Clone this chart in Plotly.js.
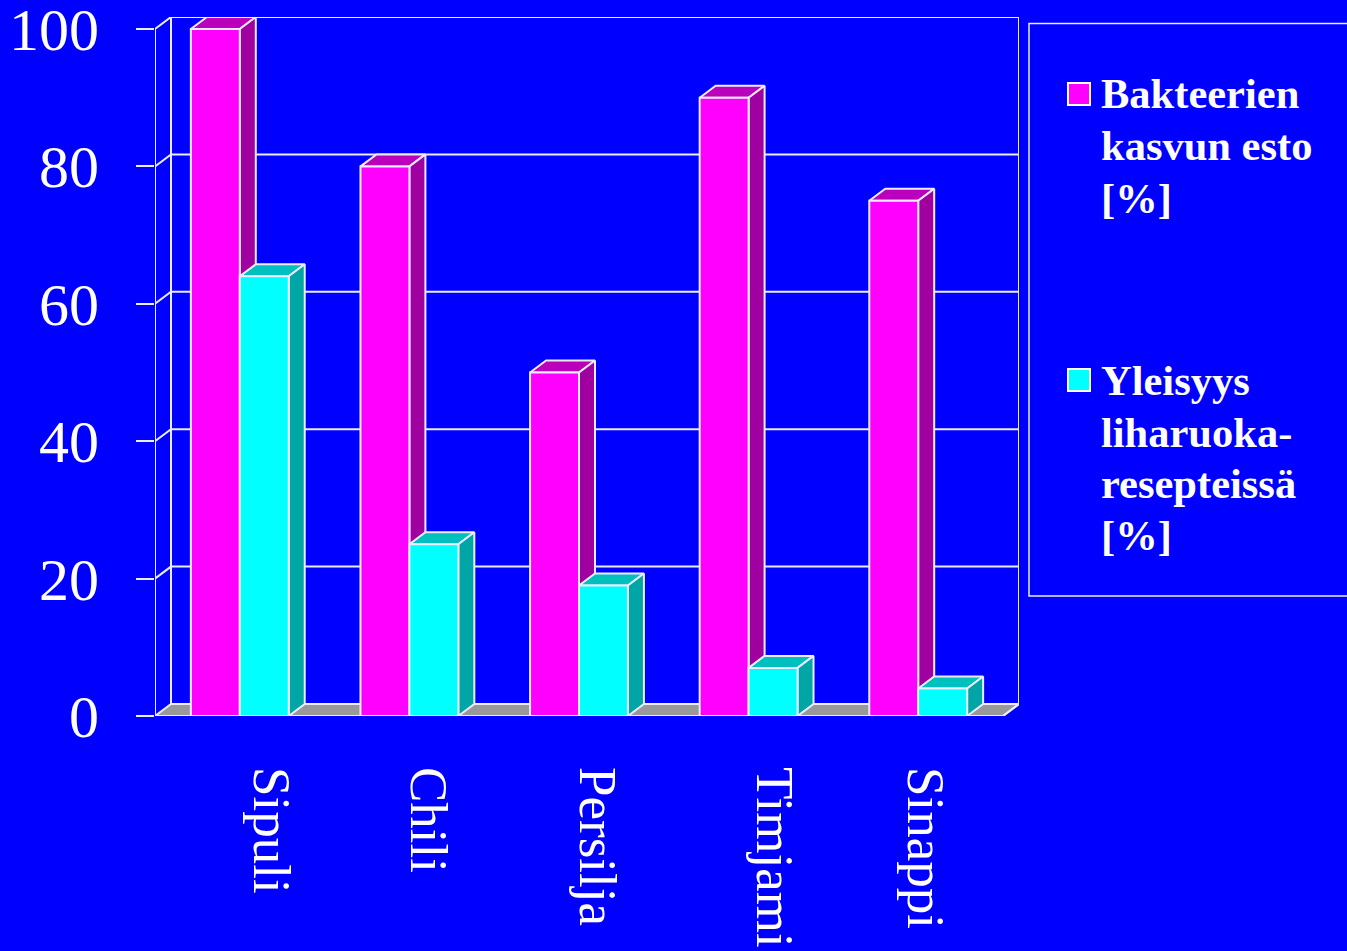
<!DOCTYPE html>
<html><head><meta charset="utf-8">
<script src="https://cdn.plot.ly/plotly-3.0.1.min.js"></script>
<style>html,body{margin:0;padding:0;background:#00f;overflow:hidden}</style>
</head><body><div id="chart" style="width:1347px;height:951px"></div>
<script>
const categories = ["Sipuli","Chili","Persilja","Timjami","Sinappi"];
const catIndex = [0,1,2,3,4];
const inhibition = [100,80,50,90,75];
const prevalence = [64,25,19,7,4];
const yTicks = [0,20,40,60,80,100];
const labelPositions = [0.183,0.109,0.105,0.150,0.041];
const seriesNames = ["Bakteerien kasvun esto [%]","Yleisyys liharuoka-resepteissä [%]"];
const legendLinesA = ["Bakteerien","kasvun esto","[%]"];
const legendLinesB = ["Yleisyys","liharuoka-","resepteissä","[%]"];

const W=1347,H=951,L=155,R=1019,T=17,B=716;
const dx=16/169.6, dy=12/6.87, barW=0.2885;
const xRange=[-0.5,4.5+dx], yRange=[0,100+dy];
const px=p=>(p-L)/(R-L), py=p=>(B-p)/(B-T);
const lineCol='#ECECFF', lw=2;

function faces(vals, off){
  const side={x:[],y:[]}, top={x:[],y:[]};
  vals.forEach((v,i)=>{
    const a=catIndex[i]+off, b=a+barW;
    side.x.push(b,b+dx,b+dx,b,b,null); side.y.push(0,dy,v+dy,v,0,null);
    top.x.push(a,a+dx,b+dx,b,a,null); top.y.push(v,v+dy,v+dy,v,v,null);
  });
  return {side,top};
}
const poly=(f,color)=>({type:'scatter',mode:'lines',x:f.x,y:f.y,fill:'toself',fillcolor:color,cliponaxis:false,
  line:{color:lineCol,width:lw},showlegend:false,hoverinfo:'skip',xaxis:'x',yaxis:'y'});

const xl=xRange[0], xr=4.5;
const grid={x:[],y:[]};
yTicks.forEach(t=>{ if(t>0){grid.x.push(xl,xl+dx,xr+dx,null);grid.y.push(t,t+dy,t+dy,null);} });
grid.x.push(xl,xl,null,xl+dx,xl+dx,null,xr+dx,xr+dx,null);
grid.y.push(0,100,null,dy,100+dy,null,dy,100+dy,null);
const floor={x:[xl,xl+dx,xr+dx,xr,xl],y:[0,dy,dy,0,0]};

const fa=faces(inhibition,-barW), fb=faces(prevalence,0);
const barTrace=(vals,name,color)=>({type:'bar',x:catIndex,y:vals,name:name,cliponaxis:false,
  marker:{color:color,line:{color:lineCol,width:lw}},xaxis:'x2',yaxis:'y2',hoverinfo:'y'});

const data=[
  poly(floor,'#999999'),
  {type:'scatter',mode:'lines',x:grid.x,y:grid.y,cliponaxis:false,line:{color:lineCol,width:lw},showlegend:false,hoverinfo:'skip'},
  {type:'scatter',mode:'lines',x:[xl,xr,xr+dx],y:[0,0,dy],cliponaxis:false,line:{color:lineCol,width:lw},showlegend:false,hoverinfo:'skip'},
  poly(fa.top,'#BB00BB'),poly(fa.side,'#A000A0'),
  poly(fb.top,'#00BFBF'),poly(fb.side,'#00A5A5'),
  barTrace(inhibition,seriesNames[0],'#FF00FF'),
  barTrace(prevalence,seriesNames[1],'#00FFFF')
];
const swatch=(x0,y0,c)=>({type:'rect',xref:'paper',yref:'paper',x0:px(x0),x1:px(x0+22),y0:py(y0),y1:py(y0+22),
  fillcolor:c,line:{color:'#FFFFFF',width:2},layer:'above'});
const legendText=(lines,yStart,step)=>lines.map((t,i)=>({text:'<b>'+t+'</b>',xref:'paper',yref:'paper',x:px(1100),y:py(yStart+i*step),
  xanchor:'left',yanchor:'middle',showarrow:false,align:'left',borderpad:0,
  font:{size:42.5,color:'#FFFFFF',family:'"Liberation Serif",serif'}}));
const layout={
  width:W,height:H,paper_bgcolor:'#0000FF',plot_bgcolor:'#0000FF',showlegend:false,
  margin:{l:L,r:W-R,t:T,b:H-B,pad:0},barmode:'group',bargap:1-2*barW,bargroupgap:0,
  font:{family:'"Liberation Serif",serif',color:'#FFFFFF'},
  xaxis:{range:xRange,tickmode:'array',tickvals:labelPositions.map((o,i)=>catIndex[i]+o),ticktext:categories,
    tickangle:90,ticks:'',showgrid:false,zeroline:false,showline:false,ticklabelstandoff:50,ticklabeloverflow:'allow',tickfont:{size:53,color:'#FFFFFF'}},
  yaxis:{range:yRange,tickmode:'array',tickvals:yTicks,ticks:'outside',ticklen:18,tickwidth:2,tickcolor:lineCol,
    showgrid:false,zeroline:false,showline:false,ticklabelstandoff:25,ticklabeloverflow:'allow',tickfont:{size:60,color:'#FFFFFF'}},
  xaxis2:{range:xRange,overlaying:'x',visible:false},
  yaxis2:{range:yRange,overlaying:'y',visible:false},
  annotations:[...legendText(legendLinesA,94,52),...legendText(legendLinesB,380.5,51.7)],
  shapes:[
    {type:'rect',xref:'paper',yref:'paper',x0:px(1029),x1:px(1360),y0:py(23.5),y1:py(596),line:{color:lineCol,width:1.5},fillcolor:'rgba(0,0,0,0)',layer:'below'},
    swatch(1068,83,'#FF00FF'),swatch(1068,369,'#00FFFF')
  ]
};
Plotly.newPlot('chart',data,layout,{displayModeBar:false});
</script></body></html>
